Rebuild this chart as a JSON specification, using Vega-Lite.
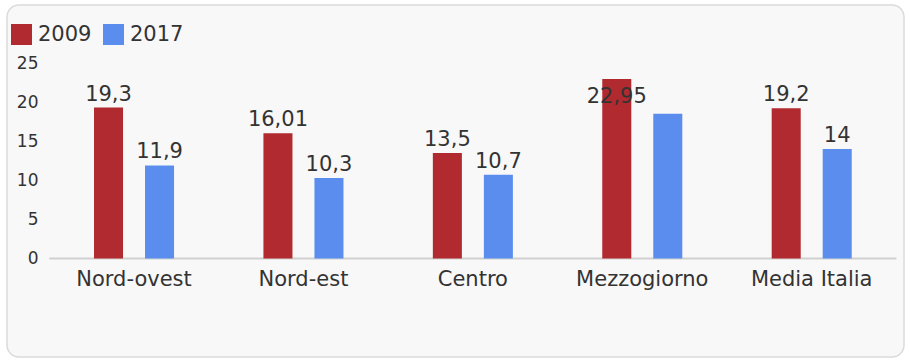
{
  "$schema": "https://vega.github.io/schema/vega-lite/v6.json",
  "width": 910,
  "height": 360,
  "autosize": {"type": "fit", "contains": "padding"},
  "padding": {"left": 7, "top": 5, "right": 6, "bottom": 3},
  "background": "white",
  "config": {
    "view": {"fill": "#f8f8f8", "stroke": "#dadada", "strokeWidth": 1.5, "cornerRadius": 12},
    "font": "DejaVu Sans",
    "locale": {"number": {"decimal": ",", "thousands": ".", "grouping": [3], "currency": ["€", ""]}}
  },
  "data": {
    "values": [
      {"region": "Nord-ovest", "year": "2009", "value": 19.3},
      {"region": "Nord-ovest", "year": "2017", "value": 11.9},
      {"region": "Nord-est", "year": "2009", "value": 16.01},
      {"region": "Nord-est", "year": "2017", "value": 10.3},
      {"region": "Centro", "year": "2009", "value": 13.5},
      {"region": "Centro", "year": "2017", "value": 10.7},
      {"region": "Mezzogiorno", "year": "2009", "value": 22.95},
      {"region": "Mezzogiorno", "year": "2017", "value": 18.5},
      {"region": "Media Italia", "year": "2009", "value": 19.2},
      {"region": "Media Italia", "year": "2017", "value": 14}
    ]
  },
  "layer": [
    {
      "data": {"values": [{"a": "Nord-ovest", "b": "Media Italia"}]},
      "mark": {"type": "rule", "color": "#d0d0d0", "strokeWidth": 2},
      "encoding": {
        "x": {"field": "a", "type": "nominal", "bandPosition": 0, "title": null},
        "x2": {"field": "b", "bandPosition": 1},
        "y": {"datum": 0, "type": "quantitative"}
      }
    },
    {
      "mark": {"type": "bar"},
      "encoding": {
        "x": {
          "field": "region", "type": "nominal",
          "scale": {"domain": ["Nord-ovest", "Nord-est", "Centro", "Mezzogiorno", "Media Italia"], "paddingInner": 0, "paddingOuter": 0.1473, "align": 0.848},
          "axis": {"title": null, "orient": "bottom", "offset": -98.5, "domain": false, "ticks": false, "bandPosition": 0.5, "labelAlign": "center", "labelBaseline": "alphabetic", "labelFontSize": 21, "labelColor": "#333333", "labelPadding": 27, "labelAngle": 0, "grid": false}
        },
        "xOffset": {"field": "year", "type": "nominal", "scale": {"paddingInner": 0.431, "paddingOuter": 0.876}},
        "y": {
          "field": "value", "type": "quantitative",
          "scale": {"domain": [-12.6, 32.42], "nice": false, "zero": false},
          "axis": {"values": [0, 5, 10, 15, 20, 25], "title": null, "domain": false, "ticks": false, "grid": false, "offset": -43, "labelPadding": 12, "labelFontSize": 17, "labelColor": "#333333"}
        },
        "y2": {"datum": 0},
        "color": {
          "field": "year", "type": "nominal",
          "scale": {"domain": ["2009", "2017"], "range": ["#b02a30", "#5a8dee"]},
          "legend": {"title": null, "orient": "none", "legendX": 4, "legendY": 19, "direction": "horizontal", "symbolType": "square", "symbolSize": 441, "symbolStrokeWidth": 0, "symbolOpacity": 1, "labelFontSize": 21, "labelColor": "#333333", "labelOffset": 6, "columnPadding": 11}
        }
      }
    },
    {
      "transform": [{"filter": "datum.region != 'Mezzogiorno'"}],
      "mark": {"type": "text", "baseline": "alphabetic", "align": "center", "dy": -7, "fontSize": 21, "color": "#333333"},
      "encoding": {
        "x": {"field": "region", "type": "nominal", "title": null},
        "xOffset": {"field": "year", "type": "nominal"},
        "y": {"field": "value", "type": "quantitative", "title": null},
        "text": {"field": "value", "type": "quantitative", "format": "~g"}
      }
    },
    {
      "transform": [{"filter": "datum.region == 'Mezzogiorno' && datum.year == '2009'"}],
      "mark": {"type": "text", "baseline": "alphabetic", "align": "center", "dy": 23.7, "fontSize": 21, "color": "#333333"},
      "encoding": {
        "x": {"field": "region", "type": "nominal", "title": null},
        "xOffset": {"field": "year", "type": "nominal"},
        "y": {"field": "value", "type": "quantitative", "title": null},
        "text": {"field": "value", "type": "quantitative", "format": "~g"}
      }
    }
  ]
}
